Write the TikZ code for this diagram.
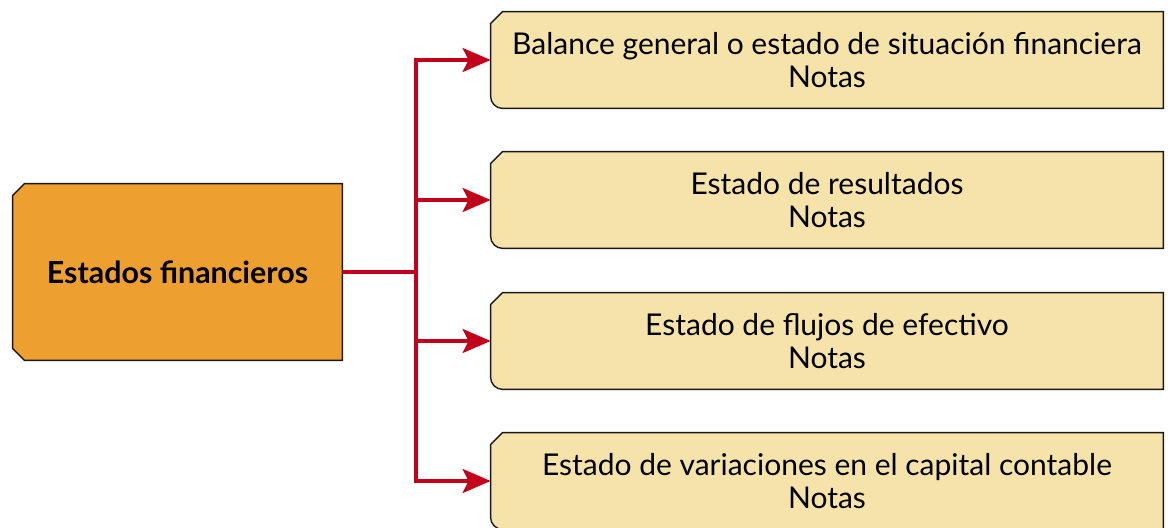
\documentclass[tikz,border=0pt]{standalone}
\usepackage{fontspec}
\setmainfont{Lato}
\usetikzlibrary{arrows.meta,backgrounds}
\definecolor{rootfill}{HTML}{EDA030}
\definecolor{boxfill}{HTML}{F5E3A9}
\definecolor{linkred}{HTML}{C3001B}
\tikzset{
ROOT/.style={inner sep=0pt, minimum width=164.5pt, minimum height=88pt, font=\fontsize{15.2}{16.5}\selectfont\bfseries},
STMT/.style={inner sep=0pt, minimum width=336pt, minimum height=48pt, align=center, font=\fontsize{15}{16.5}\selectfont},
OUTLINE/.style={draw=black!90, line width=0.7pt, line join=miter, fill=#1},
OUTLINE/.default=boxfill,
LINK/.style={draw=linkred, line width=1.6pt, -{Stealth[length=14pt,width=12pt,inset=3pt]}},
}
\begin{document}
\begin{tikzpicture}[x=0.5pt, y=-0.5pt]
	\useasboundingbox (0,0) rectangle (1168,528);
	%Estados financieros
	\node[ROOT] (root) at (177.5,272) {Estados financieros};
	\node[STMT] (b1) at (827,60) {Balance general o estado de situación financiera\\Notas};
	\node[STMT] (b2) at (827,200) {Estado de resultados\\Notas};
	\node[STMT] (b3) at (827,341) {Estado de flujos de efectivo\\Notas};
	\node[STMT] (b4) at (827,481) {Estado de variaciones en el capital contable\\Notas};
	\coordinate (fork) at (416,272);
	\begin{scope}[on background layer]
		\path[OUTLINE=rootfill] ([yshift=-6pt]root.north west) -- ([xshift=6pt]root.north west) -- (root.north east) -- (root.south east) -- ([xshift=6pt]root.south west) -- ([yshift=6pt]root.south west) -- cycle;
		\foreach \n in {b1,b2,b3,b4}
			\path[OUTLINE] ([yshift=-6pt]\n.north west) -- ([xshift=6pt]\n.north west) -- (\n.north east) -- (\n.south east) -- ([xshift=6pt]\n.south west) arc[start angle=270, end angle=180, radius=6pt] -- cycle;
	\end{scope}
	\path[LINK,-] (root.east) -- (fork);
	\foreach \n in {b1,b2,b3,b4}
		\path[LINK] (fork) |- (\n.west);
\end{tikzpicture}
\end{document}
